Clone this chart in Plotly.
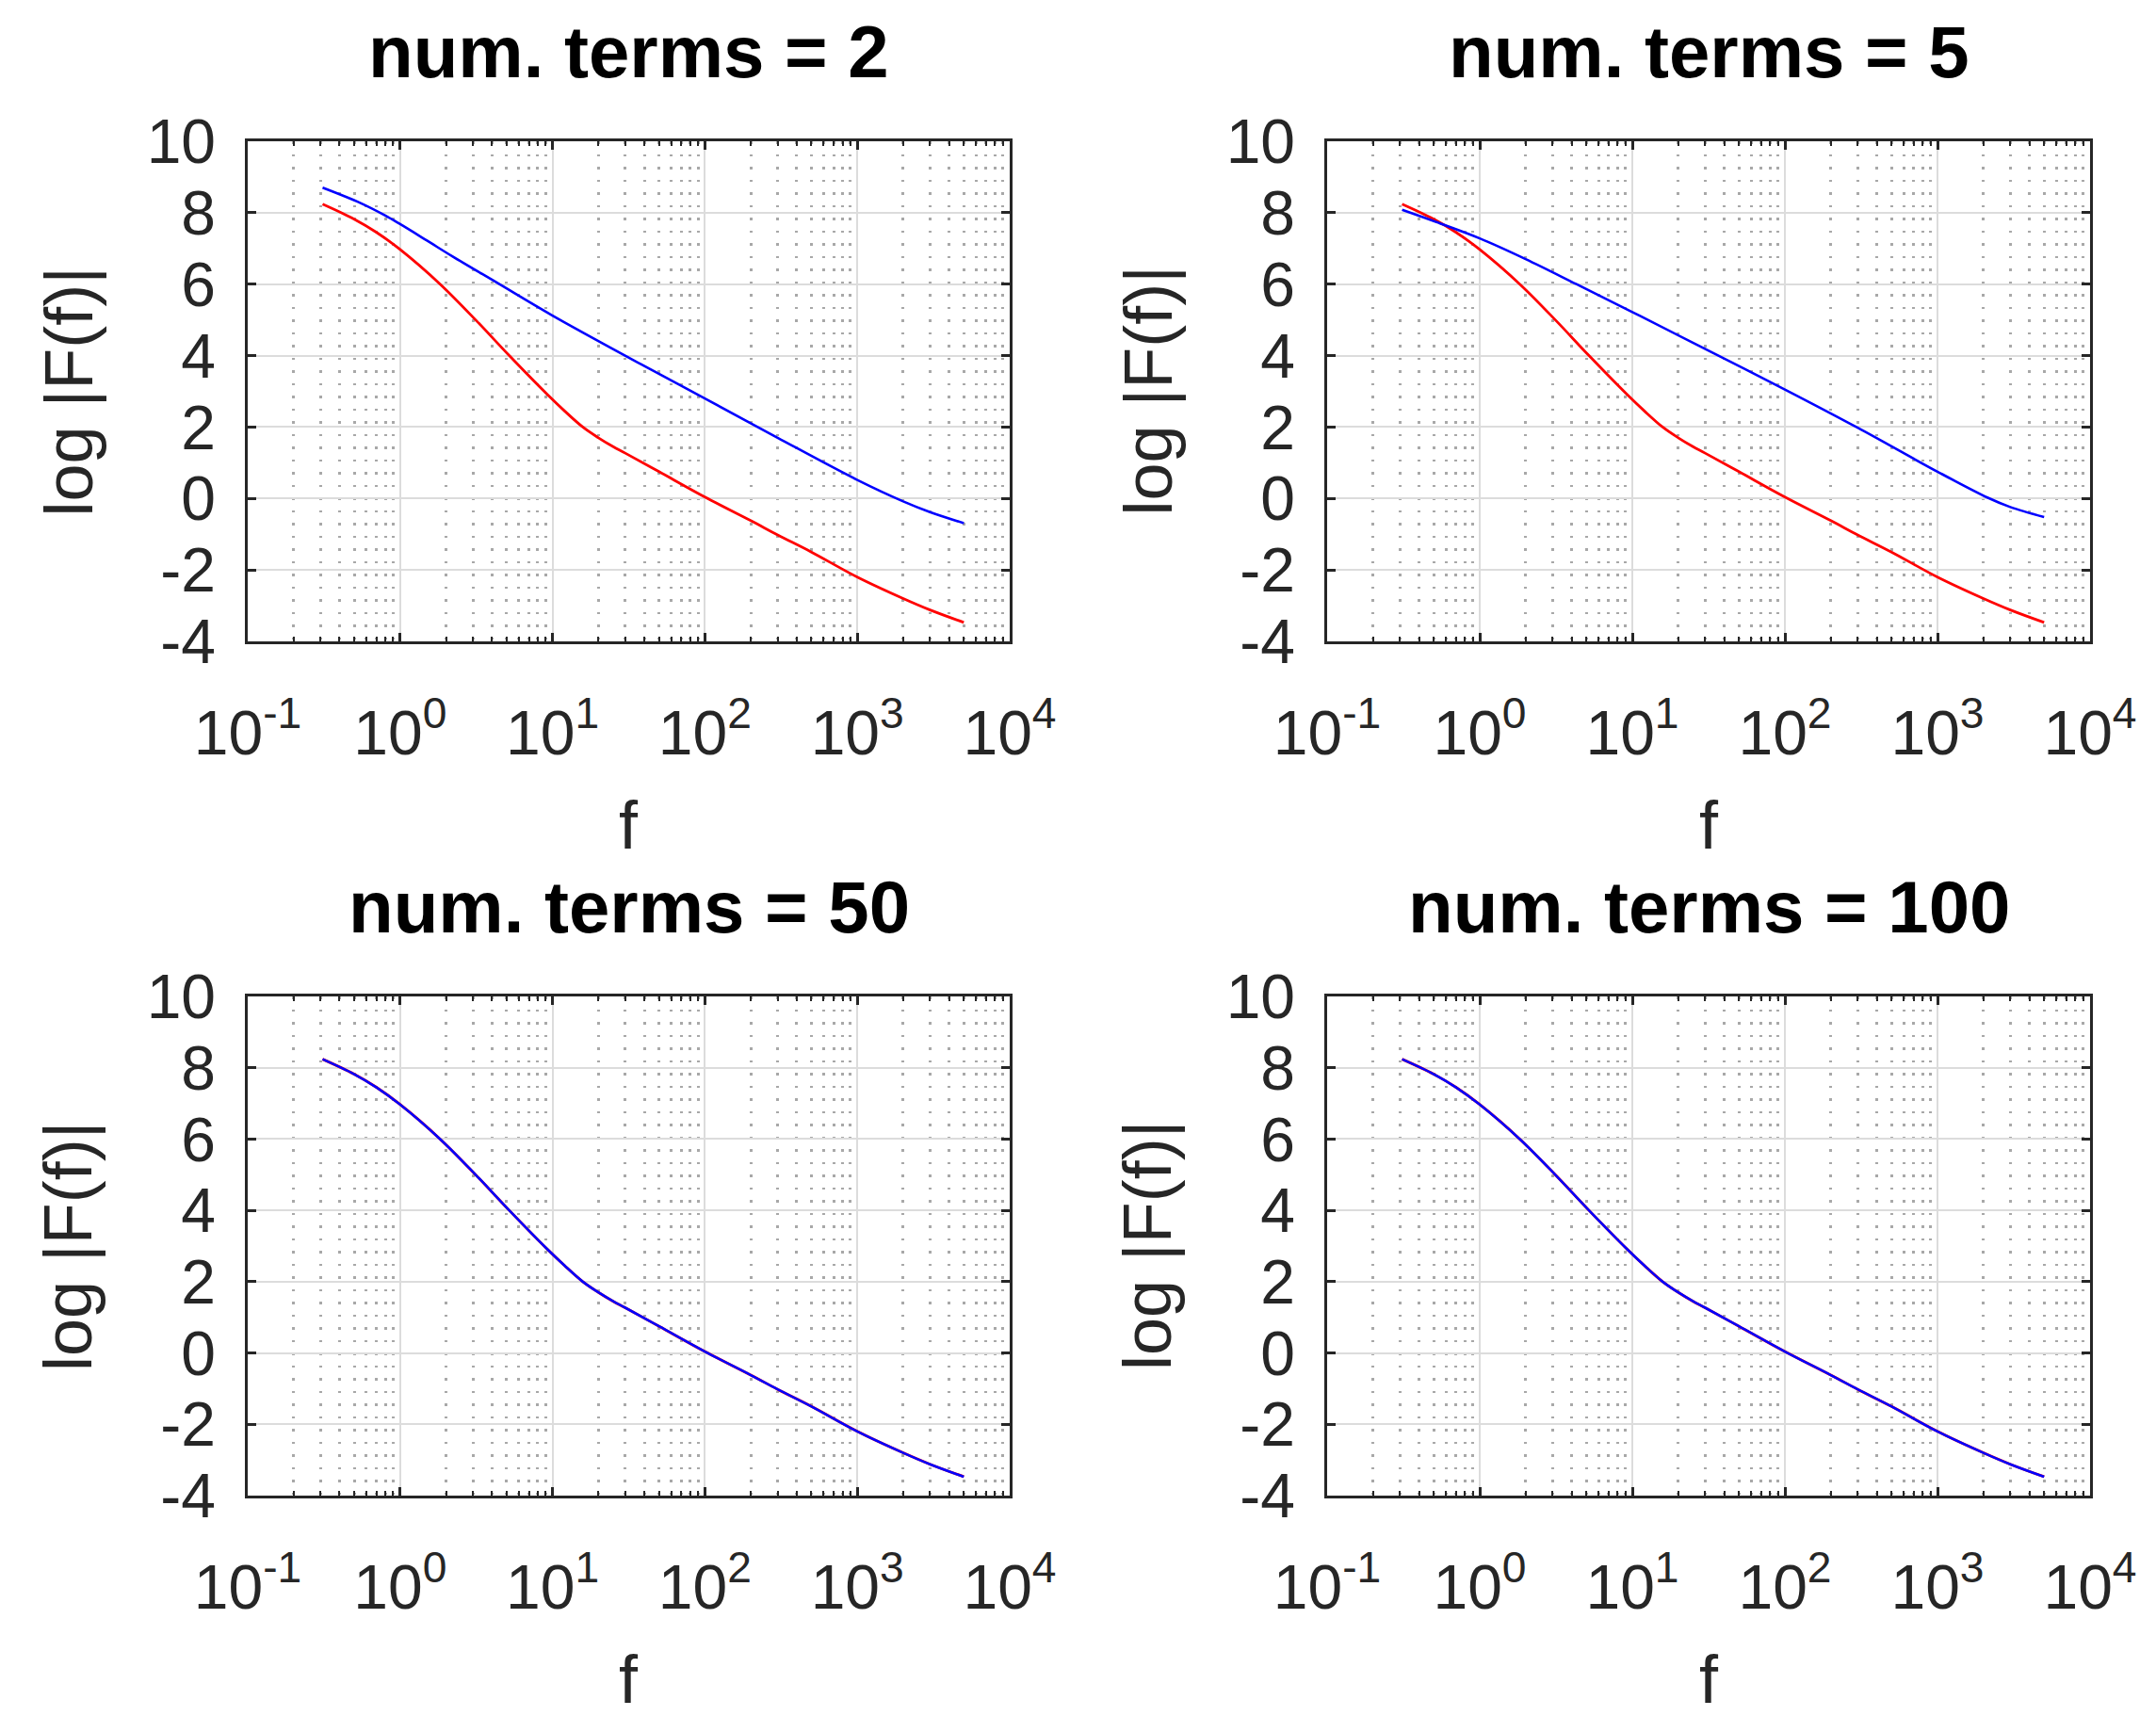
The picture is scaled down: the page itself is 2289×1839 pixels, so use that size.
import plotly.graph_objects as go

W, H = 2289, 1839

# ---------------- data ----------------
# exact curve (red) -- same in every panel
f_exact = [0.31, 0.5, 0.7, 1.0, 1.83, 3.16, 5.2, 9.2, 12, 15.8, 20, 25, 30, 50, 100, 200, 300, 500, 1000, 2000, 3000, 5000]
logF_exact = [8.24, 7.82, 7.45, 6.97, 6.0, 4.98, 4.0, 2.92, 2.45, 2.0, 1.7, 1.45, 1.27, 0.75, 0.04, -0.62, -1.02, -1.5, -2.2, -2.8, -3.12, -3.47]

# series approximation (blue), 2 terms
f_n2 = [0.31, 0.55, 0.8, 1.0, 1.5, 2.2, 4.4, 10, 38, 100, 300, 1000, 2000, 3000, 5000]
logF_n2 = [8.70, 8.27, 7.92, 7.68, 7.22, 6.78, 6.02, 5.12, 3.76, 2.8, 1.7, 0.52, -0.08, -0.38, -0.69]

# 5 terms
f_n5 = [0.31, 0.55, 1.0, 2.0, 4.3, 10, 26, 100, 300, 1000, 2140, 3000, 5000]
logF_n5 = [8.08, 7.7, 7.28, 6.7, 6.0, 5.22, 4.32, 3.05, 1.98, 0.75, 0.02, -0.24, -0.52]

# 50 and 100 terms: coincide with the exact curve
f_n50 = [0.31, 0.5, 0.7, 1.0, 1.83, 3.16, 5.2, 9.2, 12, 15.8, 20, 25, 30, 50, 100, 200, 300, 500, 1000, 2000, 3000, 5000]
logF_n50 = [8.24, 7.82, 7.45, 6.97, 6.0, 4.98, 4.0, 2.92, 2.45, 2.0, 1.7, 1.45, 1.27, 0.75, 0.04, -0.62, -1.02, -1.5, -2.2, -2.8, -3.12, -3.47]
f_n100 = [0.31, 0.5, 0.7, 1.0, 1.83, 3.16, 5.2, 9.2, 12, 15.8, 20, 25, 30, 50, 100, 200, 300, 500, 1000, 2000, 3000, 5000]
logF_n100 = [8.24, 7.82, 7.45, 6.97, 6.0, 4.98, 4.0, 2.92, 2.45, 2.0, 1.7, 1.45, 1.27, 0.75, 0.04, -0.62, -1.02, -1.5, -2.2, -2.8, -3.12, -3.47]

panel_titles = ["num. terms = 2", "num. terms = 5", "num. terms = 50", "num. terms = 100"]
approx_f = [f_n2, f_n5, f_n50, f_n100]
approx_v = [logF_n2, logF_n5, logF_n50, logF_n100]

x_tick_vals = [0.1, 1, 10, 100, 1000, 10000]
x_tick_text = ["10<sup>-1</sup>", "10<sup>0</sup>", "10<sup>1</sup>", "10<sup>2</sup>", "10<sup>3</sup>", "10<sup>4</sup>"]
y_tick_vals = [-4, -2, 0, 2, 4, 6, 8, 10]
y_tick_text = ["-4", "-2", "0", "2", "4", "6", "8", "10"]
x_label = "f"
y_label = "log |F(f)|"

# ---------------- layout geometry (pixels) ----------------
cols = [(263, 1072), (1409, 2219)]
rows = [(150, 681), (1058, 1588)]

FONT = "Liberation Sans, Arial, Helvetica, sans-serif"
AXC = "#262626"

minor_vals = []
for d in [0.1, 1, 10, 100, 1000]:
    for k in range(2, 10):
        minor_vals.append(k * d)

fig = go.Figure()
layout = dict(
    width=W, height=H, margin=dict(l=0, r=0, t=0, b=0, pad=0, autoexpand=False),
    paper_bgcolor="white", plot_bgcolor="white", showlegend=False,
    font=dict(family=FONT, color=AXC),
)
annotations = []

for i in range(4):
    r, c = divmod(i, 2)
    x0, x1 = cols[c]
    y0, y1 = rows[r]
    xs = "" if i == 0 else str(i + 1)
    xa, ya = "x" + xs, "y" + xs

    fig.add_trace(go.Scatter(x=f_exact, y=logF_exact, mode="lines",
                             line=dict(color="#ff0000", width=2.8, shape="spline", smoothing=1.0),
                             xaxis=xa, yaxis=ya, hoverinfo="skip"))
    fig.add_trace(go.Scatter(x=approx_f[i], y=approx_v[i], mode="lines",
                             line=dict(color="#0000ff", width=2.6, shape="spline", smoothing=1.0),
                             xaxis=xa, yaxis=ya, hoverinfo="skip"))

    layout["xaxis" + xs] = dict(
        type="log", range=[-1, 4], domain=[x0 / W, x1 / W], anchor=ya, automargin=False,
        showline=True, linecolor=AXC, linewidth=2.5, mirror="allticks",
        ticks="inside", ticklen=9, tickwidth=2.5, tickcolor=AXC,
        tickmode="array", tickvals=x_tick_vals, ticktext=x_tick_text,
        tickfont=dict(size=66, family=FONT, color=AXC), ticklabelstandoff=38,
        showgrid=True, gridcolor="#dcdcdc", gridwidth=2, zeroline=False,
        minor=dict(tickmode="array", tickvals=minor_vals, ticks="inside", ticklen=5,
                   tickwidth=2, tickcolor=AXC, showgrid=True, gridcolor="#a8a8a8",
                   gridwidth=2.5, griddash="2.5px,11px"),
    )
    layout["yaxis" + xs] = dict(
        range=[-4, 10], domain=[1 - y1 / H, 1 - y0 / H], anchor=xa, automargin=False,
        showline=True, linecolor=AXC, linewidth=2.5, mirror="allticks",
        ticks="inside", ticklen=9, tickwidth=2.5, tickcolor=AXC,
        tickmode="array", tickvals=y_tick_vals, ticktext=y_tick_text,
        tickfont=dict(size=66, family=FONT, color=AXC), ticklabelstandoff=18,
        showgrid=True, gridcolor="#dcdcdc", gridwidth=2, zeroline=False,
    )

    cx = (x0 + x1) / 2
    cy = (y0 + y1) / 2
    annotations.append(dict(text="<b>" + panel_titles[i] + "</b>", x=cx / W, y=1 - (y0 - 95) / H,
                            xref="paper", yref="paper", xanchor="center", yanchor="middle",
                            showarrow=False, font=dict(size=78, family=FONT, color="black")))
    annotations.append(dict(text=y_label, x=(x0 - 191) / W, y=1 - cy / H, textangle=-90,
                            xref="paper", yref="paper", xanchor="center", yanchor="middle",
                            showarrow=False, font=dict(size=72, family=FONT, color=AXC)))
    annotations.append(dict(text=x_label, x=cx / W, y=1 - (y1 + 195) / H,
                            xref="paper", yref="paper", xanchor="center", yanchor="middle",
                            showarrow=False, font=dict(size=72, family=FONT, color=AXC)))

layout["annotations"] = annotations
fig.update_layout(**layout)

fig.write_html("out.html", config={"responsive": False, "displayModeBar": False},
               post_script="document.body.style.margin='0';")
